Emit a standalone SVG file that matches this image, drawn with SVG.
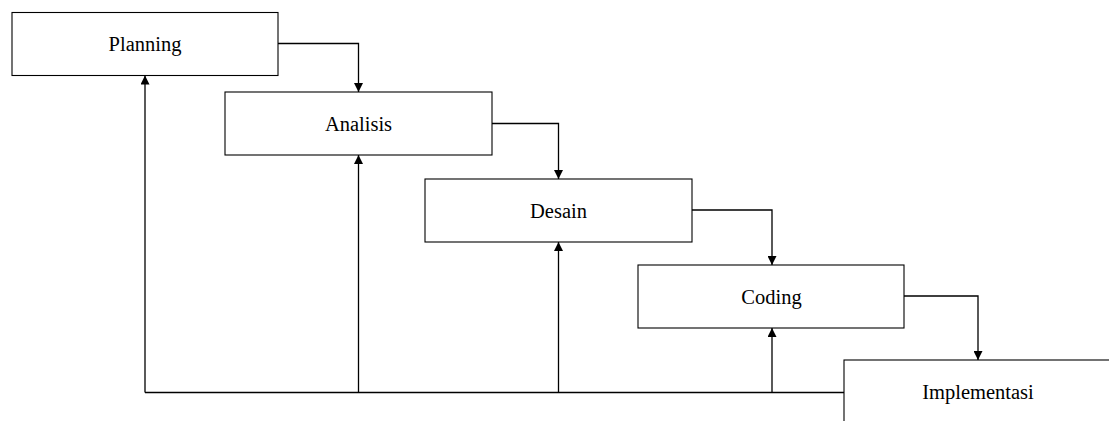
<svg xmlns="http://www.w3.org/2000/svg" width="1109" height="421" viewBox="0 0 1109 421">
<style>
.box{fill:#fff;stroke:#000;stroke-width:1.1}
.lbl{font-family:"Liberation Serif","Times New Roman",serif;font-size:20.5px;fill:#000;text-anchor:middle}
.con{fill:none;stroke:#000;stroke-width:1.3}
</style>
<defs>
<marker id="arr" viewBox="0 0 10 10" refX="10" refY="5" markerWidth="10" markerHeight="9" markerUnits="userSpaceOnUse" orient="auto">
<path d="M0,0 L10,5 L0,10 z" fill="#000"/>
</marker>
</defs>
<rect width="1109" height="421" fill="#fff"/>
<g id="planning"><rect class="box" x="12" y="12.5" width="266" height="63"/><text class="lbl" x="145" y="51">Planning</text></g>
<g id="analisis"><rect class="box" x="225" y="92" width="267" height="63"/><text class="lbl" x="358.5" y="130.5">Analisis</text></g>
<g id="desain"><rect class="box" x="425" y="179" width="267" height="63"/><text class="lbl" x="558.5" y="217.5">Desain</text></g>
<g id="coding"><rect class="box" x="638" y="265" width="266" height="63"/><text class="lbl" x="771.5" y="303.5">Coding</text></g>
<g id="implementasi"><rect class="box" x="844" y="360" width="267" height="63"/><text class="lbl" x="978" y="399">Implementasi</text></g>
<g id="connectors">
<path class="con" d="M278,43.5 H358.5 V92" marker-end="url(#arr)"/>
<path class="con" d="M492,123.5 H558.5 V179" marker-end="url(#arr)"/>
<path class="con" d="M692,210 H772 V265" marker-end="url(#arr)"/>
<path class="con" d="M904,296 H978 V360" marker-end="url(#arr)"/>
<path class="con" d="M844,392.5 H145"/>
<path class="con" d="M145,392.5 V75.5" marker-end="url(#arr)"/>
<path class="con" d="M358.5,392.5 V155" marker-end="url(#arr)"/>
<path class="con" d="M558.5,392.5 V242" marker-end="url(#arr)"/>
<path class="con" d="M772,392.5 V328" marker-end="url(#arr)"/>
</g>
</svg>
